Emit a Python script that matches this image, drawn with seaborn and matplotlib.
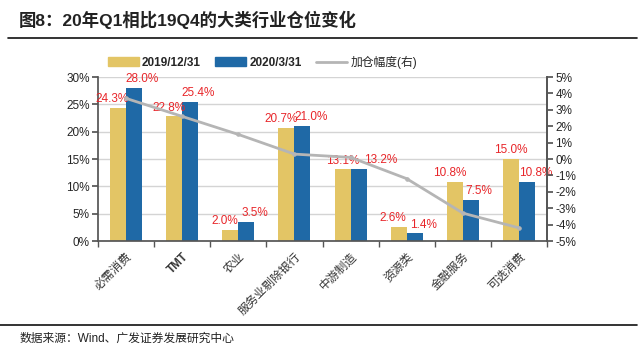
import numpy as np
import pandas as pd
import matplotlib
matplotlib.use('Agg')
import matplotlib.pyplot as plt
import seaborn as sns
from matplotlib.patches import Patch
from matplotlib.lines import Line2D

# data
categories = ['必需消费', 'TMT', '农业', '服务业剔除银行', '中游制造', '资源类', '金融服务', '可选消费']
q4_2019 = [24.3, 22.8, 2.0, 20.7, 13.1, 2.6, 10.8, 15.0]
q1_2020 = [28.0, 25.4, 3.5, 21.0, 13.2, 1.4, 7.5, 10.8]
change = [3.7, 2.6, 1.5, 0.3, 0.1, -1.2, -3.3, -4.2]
series_names = ['2019/12/31', '2020/3/31']
line_name = '加仓幅度(右)'

sns.set_theme(style='white')
plt.rcParams['font.family'] = ['Liberation Sans', 'Noto Sans CJK SC', 'DejaVu Sans']

yellow = '#E3C565'
blue = '#1F69A6'
grey_line = '#B5B5B5'
red = '#E8262A'

df = pd.DataFrame({
    'cat': categories * 2,
    'val': q4_2019 + q1_2020,
    'series': [series_names[0]] * 8 + [series_names[1]] * 8,
})

fig = plt.figure(figsize=(6.4, 3.55), dpi=100)
ax = fig.add_axes([0.153, 0.321, 0.702, 0.462])

sns.barplot(data=df, x='cat', y='val', hue='series', palette=[yellow, blue],
            width=0.57, ax=ax, legend=False, saturation=1, edgecolor='none')

ax.set_ylim(0, 30)
ax.set_yticks(np.arange(0, 31, 5))
ax.set_yticklabels([f'{v}%' for v in range(0, 31, 5)], fontsize=8.5)
ax.set_xlim(-0.5, 7.5)
ax.yaxis.grid(True, color='#D4D4D4', lw=1)
ax.set_axisbelow(True)
ax.set_xlabel('')
ax.set_ylabel('')

# bar value labels (blue label of 中游制造 pushed right to avoid overlap)
for i, container in enumerate(ax.containers):
    for j, (bar, v) in enumerate(zip(container, [q4_2019, q1_2020][i])):
        dx = -4 if i == 0 else 6
        if i == 0 and j in (4, 7):
            dx = 0
        if i == 1 and j == 4:
            dx = 16
        ax.annotate(f'{v:.1f}%', (bar.get_x() + bar.get_width() / 2, bar.get_height()),
                    xytext=(dx, 2), textcoords='offset points', ha='center', va='bottom',
                    color=red, fontsize=8.5, zorder=5)

ax.set_xticks(np.arange(8))
ax.set_xticklabels(categories, rotation=45, ha='right', rotation_mode='anchor', fontsize=8.5,
                   color='#333333')
for lab in ax.get_xticklabels():
    if lab.get_text() == 'TMT':
        lab.set_fontweight('bold')
ax.tick_params(axis='x', length=0, pad=7)
ax.set_xticks(np.arange(-0.5, 8, 1), minor=True)
ax.tick_params(axis='x', which='minor', length=4, color='#555555', direction='out', bottom=True)
ax.tick_params(axis='y', length=4, color='#555555', direction='out', left=True, pad=2)

ax.spines['top'].set_visible(False)
for s in ['left', 'bottom', 'right']:
    ax.spines[s].set_color('#555555')

ax2 = ax.twinx()
sns.lineplot(x=np.arange(8), y=change, ax=ax2, color=grey_line, lw=2,
             marker='o', markersize=2.5, markeredgecolor=grey_line)
ax2.set_ylim(-5, 5)
ax2.set_yticks(np.arange(-5, 6, 1))
ax2.set_yticklabels([f'{v}%' for v in range(-5, 6)], fontsize=8.5)
ax2.tick_params(axis='y', length=4, color='#555555', direction='out', right=True, pad=2)
ax2.spines['top'].set_visible(False)
ax2.spines['right'].set_color('#555555')
ax2.spines['left'].set_visible(False)
ax2.spines['bottom'].set_visible(False)
ax2.grid(False)

handles = [Patch(color=yellow, label=series_names[0]),
           Patch(color=blue, label=series_names[1]),
           Line2D([0], [0], color=grey_line, lw=2, label=line_name)]
leg = fig.legend(handles=handles, loc='center', bbox_to_anchor=(0.41, 0.825), ncol=3,
                 frameon=False, fontsize=8.5, handlelength=2.6, handleheight=0.7,
                 columnspacing=1.2, handletextpad=0.3)
for t in leg.get_texts()[:2]:
    t.set_fontweight('bold')

fig.text(0.03, 0.945, '图8：20年Q1相比19Q4的大类行业仓位变化', fontsize=12.5,
         fontweight='bold', color='#222222', va='center')
fig.add_artist(Line2D([0.012, 0.995], [0.893, 0.893], color='#111111', lw=1.2))
fig.add_artist(Line2D([0.0, 0.995], [0.085, 0.085], color='#111111', lw=1.2))
fig.text(0.03, 0.045, '数据来源：Wind、广发证券发展研究中心', fontsize=8.5,
         color='#222222', va='center')

fig.savefig('out.png', dpi=100)
